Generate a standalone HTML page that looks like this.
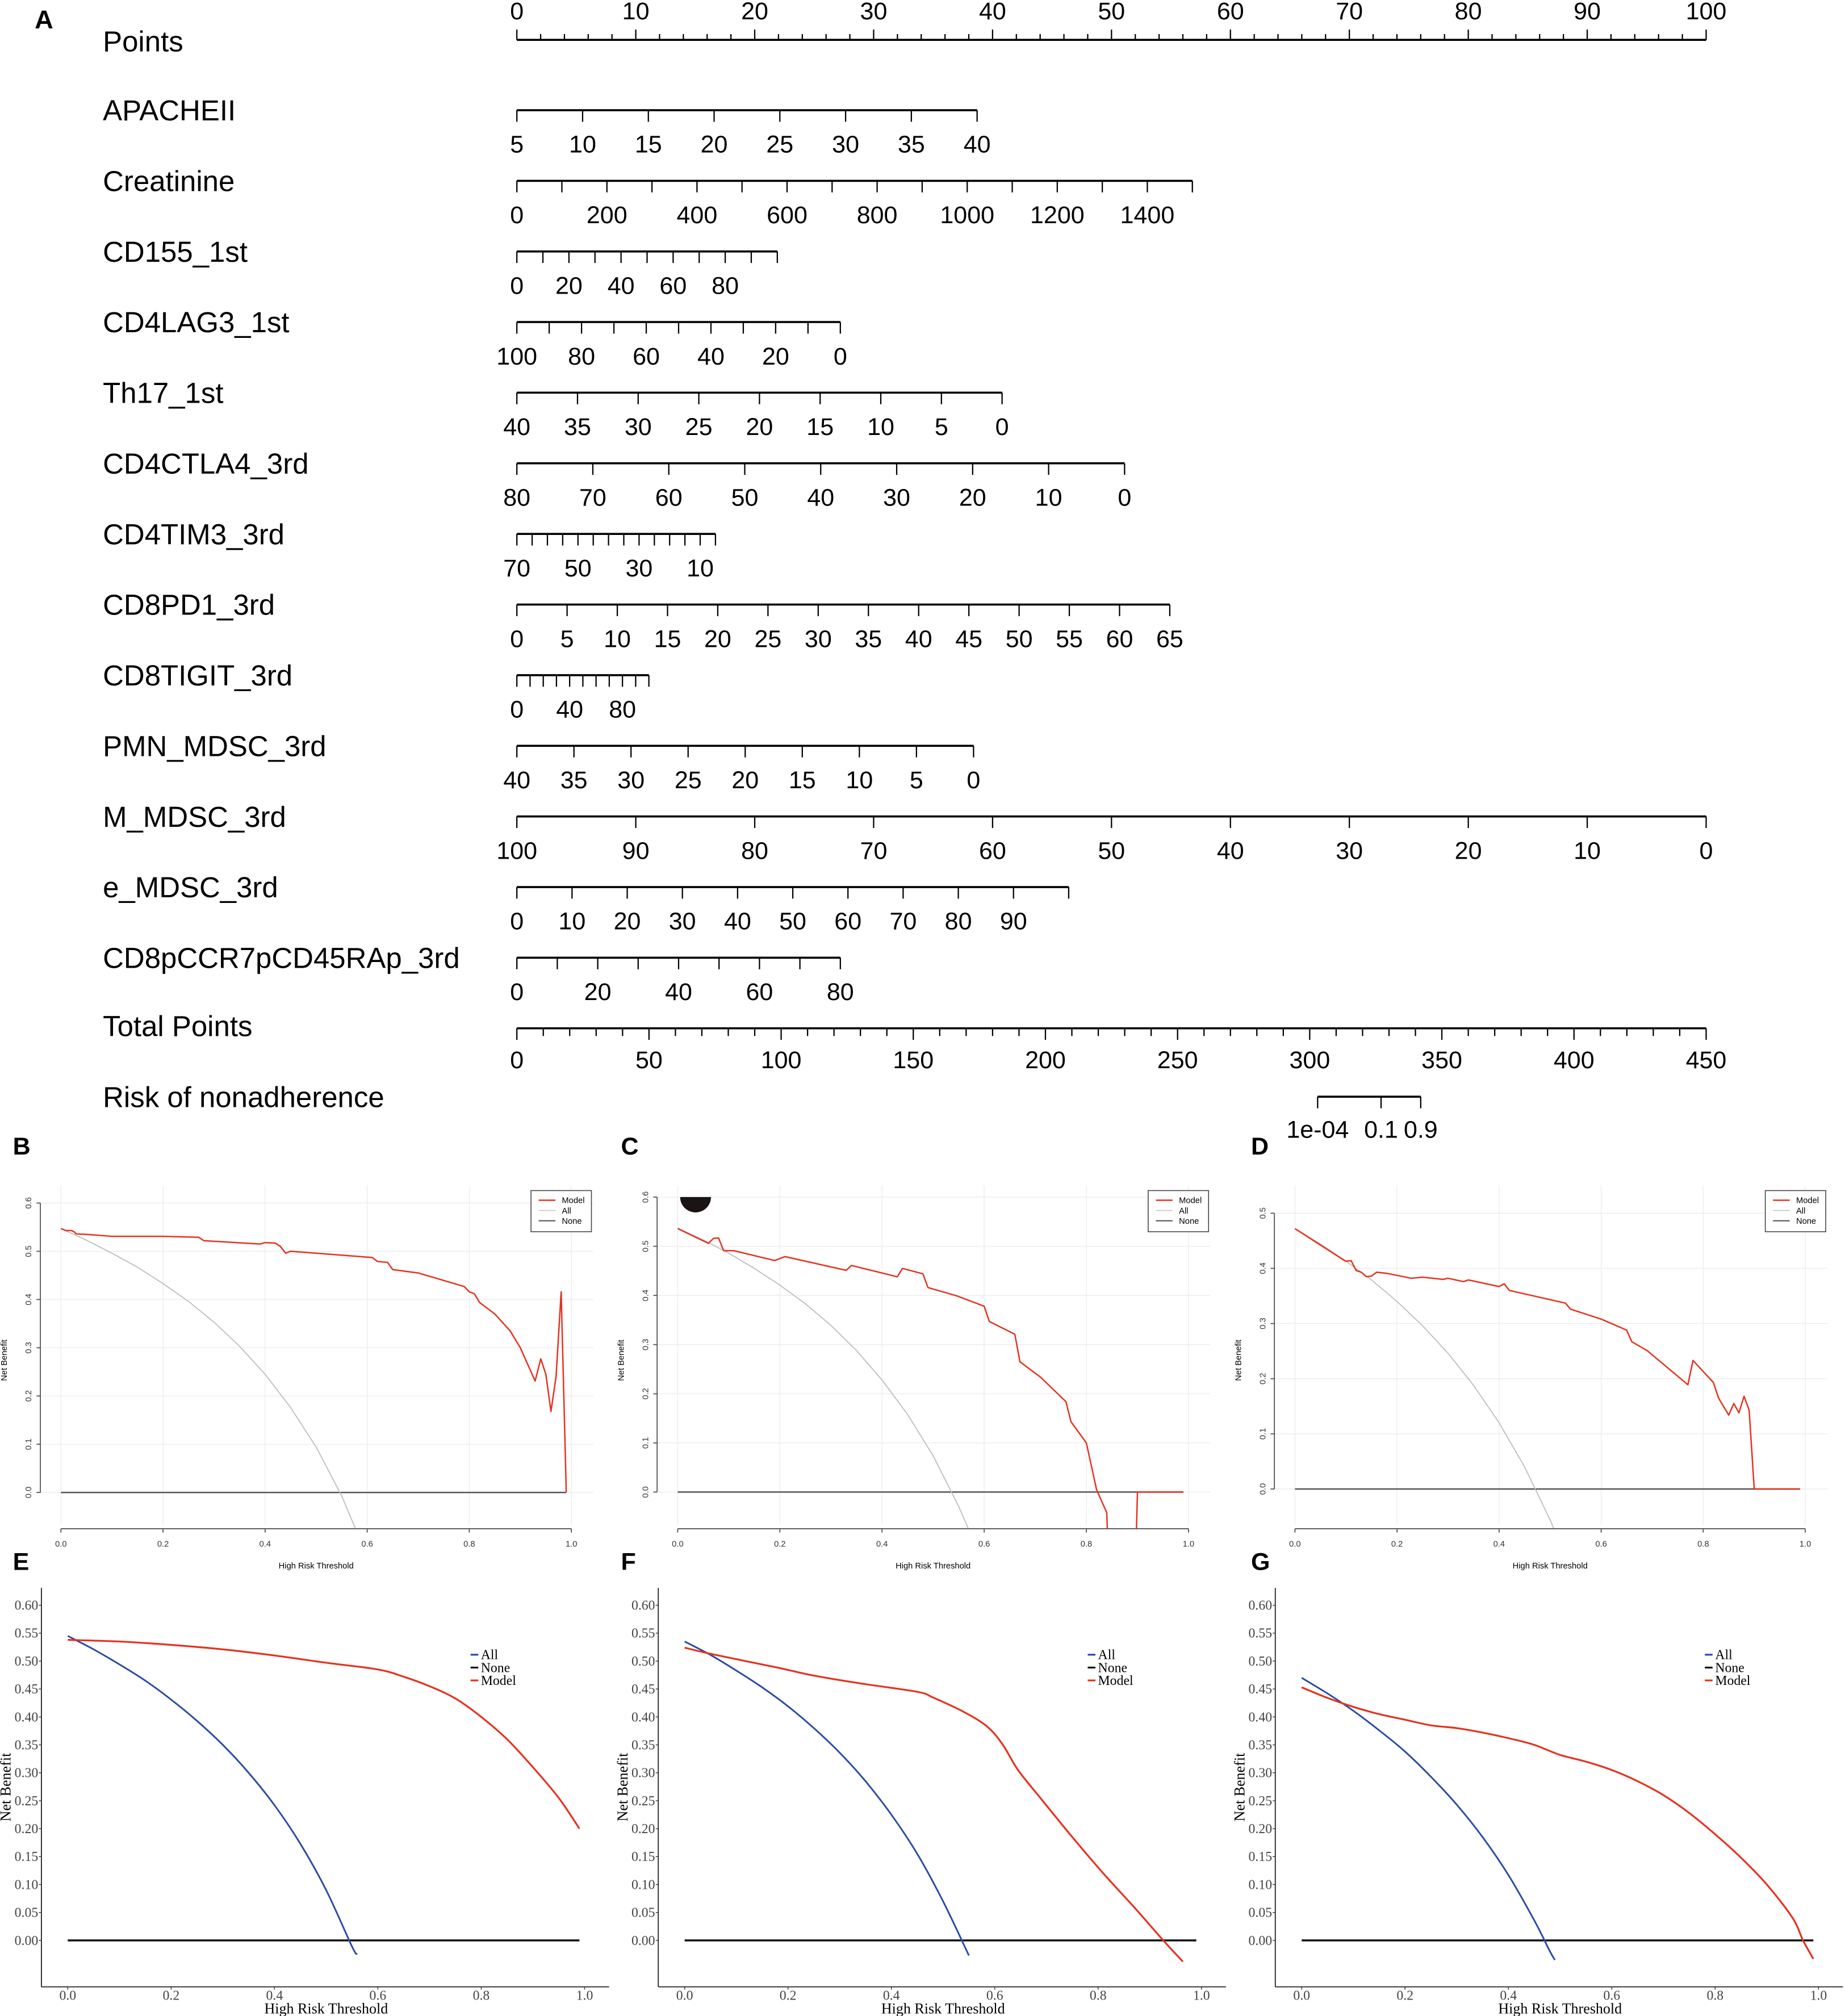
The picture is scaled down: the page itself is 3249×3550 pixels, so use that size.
<!DOCTYPE html>
<html><head><meta charset="utf-8"><style>
html,body{margin:0;padding:0;background:#fff;}
svg{display:block;}
</style></head><body>
<svg id="fig" xmlns="http://www.w3.org/2000/svg" width="3249" height="3550" viewBox="0 0 1435 1568" preserveAspectRatio="none">
<rect x="0" y="0" width="1435" height="1568" fill="#fff"/>
<defs>
<clipPath id="clipB"><rect x="31" y="915" width="432" height="274"/></clipPath>
<clipPath id="clipC"><rect x="511" y="915" width="432" height="274"/></clipPath>
<clipPath id="clipD"><rect x="991" y="915" width="432" height="274"/></clipPath>
</defs>
<g id="nomo"></g>
<g id="dca"></g>
</svg>
<script>
// ---------------- Nomogram data ----------------
const rowNames = ["APACHEII","Creatinine","CD155_1st","CD4LAG3_1st","Th17_1st","CD4CTLA4_3rd","CD4TIM3_3rd","CD8PD1_3rd","CD8TIGIT_3rd","PMN_MDSC_3rd","M_MDSC_3rd","e_MDSC_3rd","CD8pCCR7pCD45RAp_3rd"];
const rowLoVal = [5,0,0,100,40,80,70,0,0,40,100,0,0];
const rowHiVal = [40,1500,100,0,0,0,5,65,100,0,0,100,80];
const rowHiPts = [38.7,56.8,21.9,27.2,40.8,51.1,16.7,54.9,11.1,38.4,100,46.4,27.2];
const rowTicks = [
 [5,10,15,20,25,30,35,40],
 [0,100,200,300,400,500,600,700,800,900,1000,1100,1200,1300,1400,1500],
 [0,10,20,30,40,50,60,70,80,90,100],
 [100,90,80,70,60,50,40,30,20,10,0],
 [40,35,30,25,20,15,10,5,0],
 [80,70,60,50,40,30,20,10,0],
 [70,65,60,55,50,45,40,35,30,25,20,15,10,5],
 [0,5,10,15,20,25,30,35,40,45,50,55,60,65],
 [0,10,20,30,40,50,60,70,80,90,100],
 [40,35,30,25,20,15,10,5,0],
 [100,90,80,70,60,50,40,30,20,10,0],
 [0,10,20,30,40,50,60,70,80,90,100],
 [0,10,20,30,40,50,60,70,80]
];
const rowLabels = [
 [5,10,15,20,25,30,35,40],
 [0,200,400,600,800,1000,1200,1400],
 [0,20,40,60,80],
 [100,80,60,40,20,0],
 [40,35,30,25,20,15,10,5,0],
 [80,70,60,50,40,30,20,10,0],
 [70,50,30,10],
 [0,5,10,15,20,25,30,35,40,45,50,55,60,65],
 [0,40,80],
 [40,35,30,25,20,15,10,5,0],
 [100,90,80,70,60,50,40,30,20,10,0],
 [0,10,20,30,40,50,60,70,80,90],
 [0,20,40,60,80]
];
const pointsLabels = [0,10,20,30,40,50,60,70,80,90,100];
const totalLabels = [0,50,100,150,200,250,300,350,400,450];
const riskLabels = ["1e-04","0.1","0.9"];
const riskTotals = [303,327,342];

// ---------------- DCA data (panels B, C, D) ----------------
const bModelX = [0,0.01,0.02,0.025,0.03,0.05,0.1,0.2,0.27,0.28,0.39,0.40,0.42,0.43,0.44,0.45,0.61,0.62,0.64,0.65,0.7,0.79,0.80,0.81,0.82,0.85,0.88,0.9,0.929,0.94,0.95,0.96,0.97,0.98,0.99];
const bModelY = [0.547,0.543,0.543,0.541,0.536,0.535,0.531,0.531,0.529,0.522,0.515,0.518,0.517,0.51,0.496,0.5,0.487,0.479,0.477,0.462,0.455,0.427,0.416,0.412,0.394,0.37,0.335,0.3,0.231,0.277,0.245,0.168,0.24,0.416,0];
const bAllX = [0,0.05,0.1,0.15,0.2,0.25,0.3,0.35,0.4,0.45,0.5,0.55,0.577];
const bAllY = [0.547,0.523,0.496,0.467,0.433,0.396,0.353,0.303,0.245,0.176,0.094,-0.007,-0.075];
const cModelX = [0,0.06,0.07,0.08,0.09,0.11,0.19,0.21,0.33,0.34,0.43,0.44,0.48,0.49,0.547,0.6,0.61,0.66,0.67,0.71,0.76,0.77,0.8,0.82,0.84,0.845,0.895,0.9,0.99];
const cModelY = [0.536,0.506,0.516,0.517,0.491,0.491,0.471,0.479,0.451,0.461,0.438,0.455,0.444,0.416,0.399,0.378,0.347,0.321,0.265,0.234,0.184,0.143,0.1,0.005,-0.042,-0.2,-0.2,0,0];
const cAllX = [0,0.05,0.1,0.15,0.2,0.25,0.3,0.35,0.4,0.45,0.5,0.55,0.57];
const cAllY = [0.537,0.513,0.486,0.455,0.421,0.383,0.339,0.288,0.228,0.158,0.074,-0.029,-0.077];
const dModelX = [0,0.099,0.11,0.12,0.13,0.14,0.15,0.16,0.18,0.228,0.25,0.29,0.3,0.33,0.34,0.4,0.41,0.42,0.53,0.54,0.6,0.65,0.66,0.69,0.77,0.78,0.82,0.83,0.85,0.86,0.87,0.88,0.89,0.9,0.99];
const dModelY = [0.472,0.413,0.414,0.396,0.393,0.385,0.386,0.393,0.391,0.382,0.384,0.38,0.382,0.376,0.379,0.367,0.372,0.36,0.337,0.326,0.308,0.288,0.267,0.251,0.189,0.233,0.193,0.165,0.134,0.155,0.138,0.168,0.143,0,0];
const dAllX = [0,0.05,0.1,0.15,0.2,0.25,0.3,0.35,0.4,0.45,0.5,0.51];
const dAllY = [0.472,0.444,0.413,0.379,0.34,0.296,0.246,0.188,0.12,0.04,-0.056,-0.078];
const baseXTicks = [0,0.2,0.4,0.6,0.8,1.0];
const baseYTicks6 = [0,0.1,0.2,0.3,0.4,0.5,0.6];
const baseYTicks5 = [0,0.1,0.2,0.3,0.4,0.5];

// ---------------- DCA data (panels E, F, G) ----------------
const eModelX = [0,0.1,0.2,0.3,0.4,0.5,0.6,0.65,0.7,0.75,0.8,0.85,0.9,0.95,0.99];
const eModelY = [0.538,0.535,0.529,0.521,0.51,0.497,0.485,0.472,0.455,0.433,0.4,0.36,0.31,0.255,0.2];
const eAllX = [0,0.05,0.1,0.15,0.2,0.25,0.3,0.35,0.4,0.45,0.5,0.55,0.56];
const eAllY = [0.545,0.521,0.494,0.465,0.431,0.393,0.35,0.3,0.242,0.173,0.09,-0.011,-0.025];
const fModelX = [0,0.055,0.176,0.25,0.34,0.45,0.48,0.54,0.585,0.615,0.645,0.69,0.75,0.81,0.873,0.926,0.964];
const fModelY = [0.524,0.512,0.489,0.474,0.46,0.445,0.435,0.409,0.383,0.351,0.305,0.253,0.185,0.12,0.056,0.0,-0.038];
const fAllX = [0,0.05,0.1,0.15,0.2,0.25,0.3,0.35,0.4,0.45,0.5,0.55];
const fAllY = [0.535,0.511,0.483,0.453,0.419,0.38,0.336,0.285,0.225,0.155,0.07,-0.027];
const gModelX = [0,0.05,0.1,0.15,0.2,0.25,0.3,0.35,0.4,0.45,0.5,0.55,0.6,0.65,0.7,0.75,0.8,0.85,0.9,0.95,0.97,0.99];
const gModelY = [0.453,0.434,0.418,0.405,0.395,0.385,0.38,0.372,0.362,0.35,0.332,0.32,0.305,0.285,0.26,0.228,0.19,0.148,0.1,0.04,0.0,-0.033];
const gAllX = [0,0.05,0.1,0.15,0.2,0.25,0.3,0.35,0.4,0.45,0.48,0.49];
const gAllY = [0.47,0.442,0.411,0.376,0.338,0.293,0.243,0.185,0.117,0.036,-0.019,-0.035];
const ggYTicks = [0,0.05,0.1,0.15,0.2,0.25,0.3,0.35,0.4,0.45,0.5,0.55,0.6];
const ggXTicks = [0,0.2,0.4,0.6,0.8,1.0];

const NS = "http://www.w3.org/2000/svg";
function mk(parent, tag, attrs, text) {
  const el = document.createElementNS(NS, tag);
  for (const k in attrs) el.setAttribute(k, attrs[k]);
  if (text !== undefined) el.textContent = text;
  parent.appendChild(el);
  return el;
}
const SANS = "Liberation Sans, Arial, sans-serif";
const SERIF = "Liberation Serif, Times New Roman, serif";

// ---------------- Draw nomogram ----------------
const nomo = document.getElementById("nomo");
const PX0 = 402, PPP = 9.25;
function ptsX(p) { return PX0 + PPP * p; }

let t = mk(nomo, "text", {x: 27, y: 22, "font-family": SANS, "font-size": 20, "font-weight": "bold"}, "A");



const pg = mk(nomo, "g", {});


t = mk(pg, "text", {x: 80, y: 40, "font-family": SANS, "font-size": 22.5}, "Points");


mk(pg, "line", {x1: ptsX(0), x2: ptsX(100), y1: 31, y2: 31, stroke: "#000", "stroke-width": 1.6});
for (let p = 0; p <= 100; p += 2) {
  const major = p % 10 === 0;
  mk(pg, "line", {x1: ptsX(p), x2: ptsX(p), y1: 31, y2: major ? 23 : 26.5, stroke: "#000", "stroke-width": 1});
}
pointsLabels.forEach(v => {
  const tt = mk(pg, "text", {x: ptsX(v), y: 15, "font-family": SANS, "font-size": 19, "text-anchor": "middle"}, String(v));
  
  
});

function rowY(i) { return 85.7 + 54.93 * i; }
rowNames.forEach((name, i) => {
  const y = rowY(i);
  const g = mk(nomo, "g", {});
  
  
  const lab = mk(g, "text", {x: 80, y: y + 8, "font-family": SANS, "font-size": 22.5}, name);
  
  
  const lo = rowLoVal[i], hi = rowHiVal[i], hp = rowHiPts[i];
  const vx = v => ptsX((v - lo) / (hi - lo) * hp);
  mk(g, "line", {x1: vx(lo), x2: vx(hi), y1: y, y2: y, stroke: "#000", "stroke-width": 1.6});
  rowTicks[i].forEach(v => {
    mk(g, "line", {x1: vx(v), x2: vx(v), y1: y, y2: y + 9, stroke: "#000", "stroke-width": 1});
  });
  rowLabels[i].forEach(v => {
    const tt = mk(g, "text", {x: vx(v), y: y + 33, "font-family": SANS, "font-size": 19, "text-anchor": "middle"}, String(v));
    
    
  });
});

(function(){
  const y = rowY(13);
  const g = mk(nomo, "g", {});
  
  
  const lab = mk(g, "text", {x: 80, y: y + 6, "font-family": SANS, "font-size": 22.5}, "Total Points");
  
  
  const tx = v => PX0 + v / 450 * 925;
  mk(g, "line", {x1: tx(0), x2: tx(450), y1: y, y2: y, stroke: "#000", "stroke-width": 1.6});
  for (let v = 0; v <= 450; v += 10) {
    mk(g, "line", {x1: tx(v), x2: tx(v), y1: y, y2: y + (v % 50 === 0 ? 9 : 6), stroke: "#000", "stroke-width": 1});
  }
  totalLabels.forEach(v => {
    const tt = mk(g, "text", {x: tx(v), y: y + 31, "font-family": SANS, "font-size": 19, "text-anchor": "middle"}, String(v));
    
    
  });
  const ry = 853;
  const rg = mk(nomo, "g", {});
  
  
  const rl = mk(rg, "text", {x: 80, y: ry + 8, "font-family": SANS, "font-size": 22.5}, "Risk of nonadherence");
  
  
  mk(rg, "line", {x1: tx(riskTotals[0]), x2: tx(riskTotals[riskTotals.length-1]), y1: ry, y2: ry, stroke: "#000", "stroke-width": 1.6});
  riskTotals.forEach((v, k) => {
    mk(rg, "line", {x1: tx(v), x2: tx(v), y1: ry, y2: ry + 9, stroke: "#000", "stroke-width": 1});
    const tt = mk(rg, "text", {x: tx(v), y: ry + 32, "font-family": SANS, "font-size": 19, "text-anchor": "middle"}, riskLabels[k]);
    
    
  });
})();

// ---------------- Base-R style DCA panels ----------------
const dca = document.getElementById("dca");
function pathFrom(xs, ys, fx, fy) {
  return xs.map((x, i) => (i ? "L" : "M") + fx(x).toFixed(2) + "," + fy(ys[i]).toFixed(2)).join(" ");
}
function smoothFrom(xs, ys, fx, fy) {
  const P = xs.map((x, i) => [fx(x), fy(ys[i])]);
  let d = "M" + P[0][0].toFixed(2) + "," + P[0][1].toFixed(2);
  for (let i = 0; i < P.length - 1; i++) {
    const p0 = P[Math.max(0, i - 1)], p1 = P[i], p2 = P[i + 1], p3 = P[Math.min(P.length - 1, i + 2)];
    const c1 = [p1[0] + (p2[0] - p0[0]) / 6, p1[1] + (p2[1] - p0[1]) / 6];
    const c2 = [p2[0] - (p3[0] - p1[0]) / 6, p2[1] - (p3[1] - p1[1]) / 6];
    d += " C" + c1[0].toFixed(2) + "," + c1[1].toFixed(2) + " " + c2[0].toFixed(2) + "," + c2[1].toFixed(2) + " " + p2[0].toFixed(2) + "," + p2[1].toFixed(2);
  }
  return d;
}
function basePanel(cfg) {
  const g = mk(dca, "g", {});
  
  
  const fx = v => cfg.x0 + (cfg.x1 - cfg.x0) * v;
  const fy = v => cfg.y0 - (cfg.y0 - cfg.yTop) * v / cfg.yMax;
  const L = mk(g, "text", {x: cfg.lx, y: 898, "font-family": SANS, "font-size": 19, "font-weight": "bold"}, cfg.letter);
  
  
  const left = cfg.x0 - 16, right = cfg.x0 + 414;
  cfg.yTicks.forEach(v => mk(g, "line", {x1: left, x2: right, y1: fy(v), y2: fy(v), stroke: "#ececec", "stroke-width": 0.6}));
  baseXTicks.forEach(v => mk(g, "line", {x1: fx(v), x2: fx(v), y1: 922, y2: 1186, stroke: "#ececec", "stroke-width": 0.6}));
  const none = mk(g, "line", {x1: fx(0), x2: fx(0.99), y1: fy(0), y2: fy(0), stroke: "#555", "stroke-width": 1.1});
  
  
  const all = mk(g, "path", {d: pathFrom(cfg.allX, cfg.allY, fx, fy), fill: "none", stroke: "#bdbdbd", "stroke-width": 0.8, "clip-path": cfg.clip});
  
  
  const model = mk(g, "path", {d: pathFrom(cfg.modelX, cfg.modelY, fx, fy), fill: "none", stroke: "#e5321f", "stroke-width": 1.1, "stroke-linejoin": "round", "clip-path": cfg.clip});
  
  
  const ax = cfg.x0 - 16;
  mk(g, "line", {x1: ax, x2: ax, y1: fy(0), y2: fy(cfg.yMax), stroke: "#555", "stroke-width": 0.8});
  cfg.yTicks.forEach(v => {
    mk(g, "line", {x1: ax - 3, x2: ax, y1: fy(v), y2: fy(v), stroke: "#555", "stroke-width": 0.8});
    const tt = mk(g, "text", {x: 0, y: 0, transform: `translate(${ax - 7},${fy(v)}) rotate(-90)`, "font-family": SANS, "font-size": 6.5, "text-anchor": "middle", fill: "#333"}, v.toFixed(1));
    
    
  });
  const ay = 1189;
  mk(g, "line", {x1: fx(0), x2: fx(1), y1: ay, y2: ay, stroke: "#555", "stroke-width": 0.8});
  baseXTicks.forEach(v => {
    mk(g, "line", {x1: fx(v), x2: fx(v), y1: ay, y2: ay + 3, stroke: "#555", "stroke-width": 0.8});
    const tt = mk(g, "text", {x: fx(v), y: 1203, "font-family": SANS, "font-size": 6.5, "text-anchor": "middle", fill: "#333"}, v.toFixed(1));
    
    
  });
  const xt = mk(g, "text", {x: (fx(0) + fx(1)) / 2, y: 1220, "font-family": SANS, "font-size": 6.5, "text-anchor": "middle"}, "High Risk Threshold");
  
  
  const yt = mk(g, "text", {x: 0, y: 0, transform: `translate(${cfg.x0 - 42},1058) rotate(-90)`, "font-family": SANS, "font-size": 6.5, "text-anchor": "middle"}, "Net Benefit");
  
  
  const lg = mk(g, "g", {});
  
  
  mk(lg, "rect", {x: cfg.legX, y: 926, width: 47, height: 32, fill: "#fff", stroke: "#444", "stroke-width": 0.7});
  const ents = [["Model", "#e5321f", 1.1], ["All", "#bdbdbd", 0.6], ["None", "#555", 0.9]];
  ents.forEach((e, k) => {
    const yy = 933.5 + k * 8;
    mk(lg, "line", {x1: cfg.legX + 6, x2: cfg.legX + 19, y1: yy, y2: yy, stroke: e[1], "stroke-width": e[2]});
    const tt = mk(lg, "text", {x: cfg.legX + 24, y: yy + 2.3, "font-family": SANS, "font-size": 6.5}, e[0]);
    
    
  });
  return g;
}
basePanel({name: "panel-b", letter: "B", lx: 10, x0: 47.4, x1: 444.4, y0: 1160.8, yTop: 935.7, yMax: 0.6, yTicks: baseYTicks6, modelX: bModelX, modelY: bModelY, allX: bAllX, allY: bAllY, legX: 413, clip: "url(#clipB)"});
const gc = basePanel({name: "panel-c", letter: "C", lx: 483, x0: 527.1, x1: 924.4, y0: 1160.5, yTop: 931.1, yMax: 0.6, yTicks: baseYTicks6, modelX: cModelX, modelY: cModelY, allX: cAllX, allY: cAllY, legX: 893, clip: "url(#clipC)"});
const blob = mk(gc, "path", {d: "M529,931 A12,12 0 0 0 553,931 Z", fill: "#1a1414"});


basePanel({name: "panel-d", letter: "D", lx: 973, x0: 1007.2, x1: 1404.1, y0: 1158.1, yTop: 943.6, yMax: 0.5, yTicks: baseYTicks5, modelX: dModelX, modelY: dModelY, allX: dAllX, allY: dAllY, legX: 1373, clip: "url(#clipD)"});

// ---------------- ggplot style DCA panels ----------------
function ggPanel(cfg) {
  const g = mk(dca, "g", {});
  
  
  const fx = v => cfg.x0 + 402 * v;
  const y0 = 1509.2, y6 = 1248.5;
  const fy = v => y0 - (y0 - y6) * v / 0.6;
  const L = mk(g, "text", {x: cfg.lx, y: 1221, "font-family": SANS, "font-size": 19, "font-weight": "bold"}, cfg.letter);
  
  
  const ax = cfg.x0 - 20.5;
  mk(g, "line", {x1: ax, x2: ax, y1: 1235, y2: 1545.3, stroke: "#222", "stroke-width": 0.8});
  mk(g, "line", {x1: ax, x2: cfg.x0 + 421, y1: 1545.3, y2: 1545.3, stroke: "#222", "stroke-width": 0.8});
  ggYTicks.forEach(v => {
    mk(g, "line", {x1: ax - 2, x2: ax, y1: fy(v), y2: fy(v), stroke: "#333", "stroke-width": 0.6});
    const tt = mk(g, "text", {x: ax - 2.5, y: fy(v) + 3.5, "font-family": SERIF, "font-size": 10.5, "text-anchor": "end", fill: "#444"}, v.toFixed(2));
    
    
  });
  ggXTicks.forEach(v => {
    mk(g, "line", {x1: fx(v), x2: fx(v), y1: 1545.3, y2: 1547.5, stroke: "#333", "stroke-width": 0.6});
    const tt = mk(g, "text", {x: fx(v), y: 1555.5, "font-family": SERIF, "font-size": 10.5, "text-anchor": "middle", fill: "#444"}, v.toFixed(1));
    
    
  });
  const xt = mk(g, "text", {x: fx(0.5), y: 1566, "font-family": SERIF, "font-size": 11.5, "text-anchor": "middle"}, "High Risk Threshold");
  
  
  const yt = mk(g, "text", {x: 0, y: 0, transform: `translate(${ax - 24},1390) rotate(-90)`, "font-family": SERIF, "font-size": 11.5, "text-anchor": "middle"}, "Net Benefit");
  
  
  const none = mk(g, "line", {x1: fx(0), x2: fx(0.99), y1: fy(0), y2: fy(0), stroke: "#111", "stroke-width": 1.6});
  
  
  const all = mk(g, "path", {d: smoothFrom(cfg.allX, cfg.allY, fx, fy), fill: "none", stroke: "#2a4aa6", "stroke-width": 1.3, "stroke-linejoin": "round"});
  
  
  const model = mk(g, "path", {d: smoothFrom(cfg.modelX, cfg.modelY, fx, fy), fill: "none", stroke: "#e5321f", "stroke-width": 1.4, "stroke-linejoin": "round"});
  
  
  const lg = mk(g, "g", {});
  
  
  [["All", "#2a4aa6"], ["None", "#111"], ["Model", "#e5321f"]].forEach((e, k) => {
    const yy = 1287 + k * 10;
    mk(lg, "line", {x1: cfg.legX, x2: cfg.legX + 6, y1: yy, y2: yy, stroke: e[1], "stroke-width": 1.4});
    const tt = mk(lg, "text", {x: cfg.legX + 8, y: yy + 3.5, "font-family": SERIF, "font-size": 10.5}, e[0]);
    
    
  });
}
ggPanel({name: "panel-e", letter: "E", lx: 10, x0: 52.7, modelX: eModelX, modelY: eModelY, allX: eAllX, allY: eAllY, legX: 366});
ggPanel({name: "panel-f", letter: "F", lx: 483, x0: 532.5, modelX: fModelX, modelY: fModelY, allX: fAllX, allY: fAllY, legX: 846});
ggPanel({name: "panel-g", letter: "G", lx: 973, x0: 1012.4, modelX: gModelX, modelY: gModelY, allX: gAllX, allY: gAllY, legX: 1326});
</script>
</body></html>
